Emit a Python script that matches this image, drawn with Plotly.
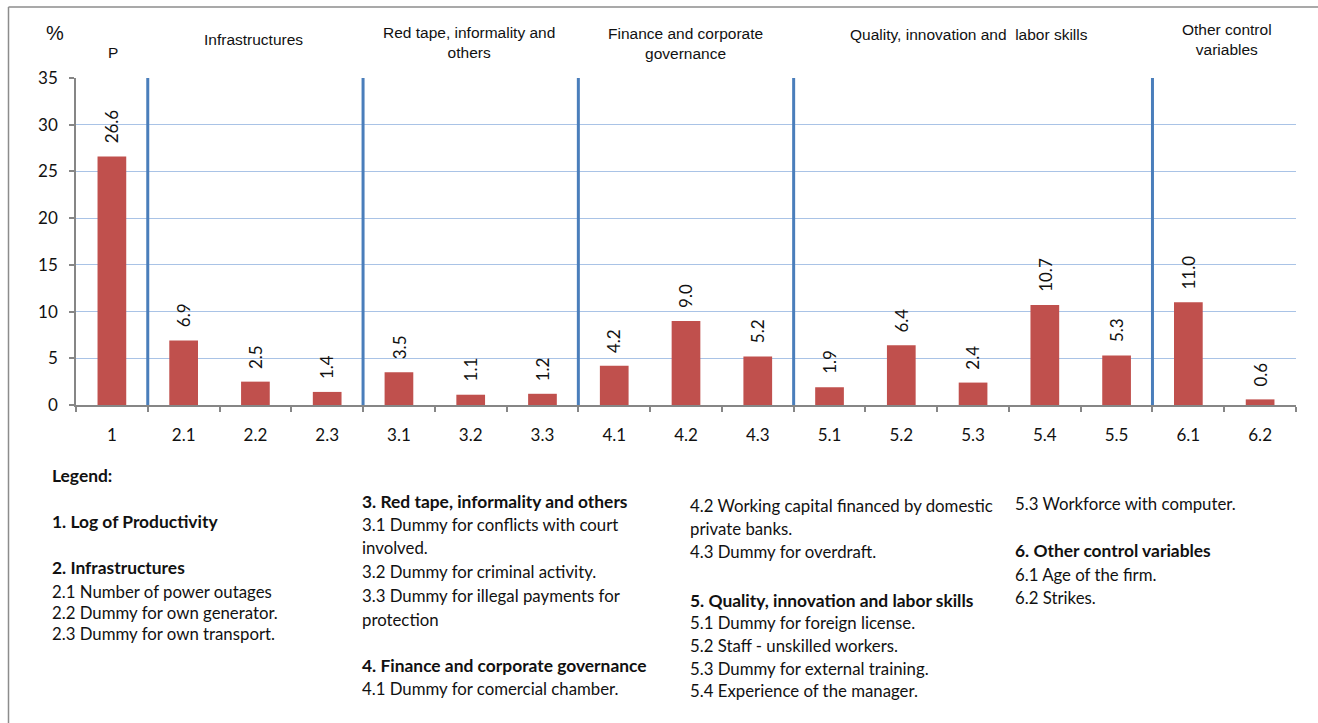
import plotly.graph_objects as go

# ---- data -------------------------------------------------------------
categories = ["1", "2.1", "2.2", "2.3", "3.1", "3.2", "3.3", "4.1", "4.2",
              "4.3", "5.1", "5.2", "5.3", "5.4", "5.5", "6.1", "6.2"]
values = [26.6, 6.9, 2.5, 1.4, 3.5, 1.1, 1.2, 4.2, 9.0, 5.2,
          1.9, 6.4, 2.4, 10.7, 5.3, 11.0, 0.6]
y_ticks = [0, 5, 10, 15, 20, 25, 30, 35]

group_titles = ["P", "Infrastructures", "Red tape, informality and<br>others",
                "Finance and corporate<br>governance",
                "Quality, innovation and  labor skills",
                "Other control<br>variables"]

legend_col1 = ["<b>Legend:</b>", "<b>1. Log of Productivity</b>",
               "<b>2. Infrastructures</b>", "2.1 Number of power outages",
               "2.2 Dummy for own generator.", "2.3 Dummy for own transport."]
legend_col2 = ["<b>3. Red tape, informality and others</b>",
               "3.1 Dummy for conflicts with court", "involved.",
               "3.2 Dummy for criminal activity.",
               "3.3 Dummy for illegal payments for", "protection",
               "<b>4. Finance and corporate governance</b>",
               "4.1 Dummy for comercial chamber."]
legend_col3 = ["4.2 Working capital financed by domestic", "private banks.",
               "4.3 Dummy for overdraft.",
               "<b>5. Quality, innovation and labor skills</b>",
               "5.1 Dummy for foreign license.", "5.2 Staff - unskilled workers.",
               "5.3 Dummy for external training.", "5.4 Experience of the manager."]
legend_col4 = ["5.3 Workforce with computer.", "<b>6. Other control variables</b>",
               "6.1 Age of the firm.", "6.2 Strikes."]

# ---- layout geometry (pixels) ----------------------------------------
W, H = 1318, 723
PLOT_L, PLOT_R, PLOT_T, PLOT_B = 76, 1296, 78, 405
group_breaks = [0.5, 3.5, 6.5, 9.5, 14.5]
title_pos = [(113, 53), (253, 39), (469, 42), (685, 43), (969, 34), (1227, 39)]
legend_cols = [
    (50, legend_col1, [475, 521, 567, 591, 612, 633]),
    (360, legend_col2, [501, 524, 547, 571, 595, 619, 665, 688]),
    (688, legend_col3, [505, 528, 551, 600, 622, 645, 668, 690]),
    (1013, legend_col4, [503, 550, 574, 597]),
]

BODY_FONT = "Lato, 'Noto Sans', sans-serif"
HEAD_FONT = "'Liberation Sans', Arial, sans-serif"


def px(x):
    return x / W


def py(y):
    return 1 - y / H


fig = go.Figure()
fig.add_trace(go.Bar(
    x=categories, y=values,
    marker=dict(color="#C0504D", line=dict(width=0)),
    width=0.4, hoverinfo="x+y",
))

annotations = []
# value labels above bars (x given as category index)
for i, v in enumerate(values):
    annotations.append(dict(
        x=i, y=v, xref="x", yref="y", text=f"{v:.1f}", showarrow=False,
        textangle=-90, yanchor="bottom", xanchor="center", yshift=11,
        font=dict(family=BODY_FONT, size=17, color="#111111"),
    ))

# group headings
for t, (x, y) in zip(group_titles, title_pos):
    annotations.append(dict(
        x=px(x), y=py(y), xref="paper", yref="paper", text=t, showarrow=False,
        xanchor="center", yanchor="middle", align="center",
        font=dict(family=HEAD_FONT, size=15.5, color="#111111"),
    ))

annotations.append(dict(
    x=px(55), y=py(33), xref="paper", yref="paper", text="%", showarrow=False,
    xanchor="center", yanchor="middle",
    font=dict(family=HEAD_FONT, size=20, color="#111111"),
))

# explanatory legend text
for x, lines, ys in legend_cols:
    for t, y in zip(lines, ys):
        bold = t.startswith("<b>")
        annotations.append(dict(
            x=px(x), y=py(y), xref="paper", yref="paper", text=t,
            showarrow=False, xanchor="left", yanchor="middle", align="left",
            font=dict(family=BODY_FONT, size=17.4 if bold else 16.8,
                      color="#111111"),
        ))

shapes = []
# group separators
for b in group_breaks:
    shapes.append(dict(
        type="line", xref="x", yref="y", x0=b, x1=b, y0=-0.85, y1=35,
        line=dict(color="#4A7EBB", width=3), layer="above",
    ))
# outer frame (left and top edges)
shapes.append(dict(type="line", xref="paper", yref="paper",
                   x0=px(8.5), x1=px(8.5), y0=0, y1=py(7),
                   line=dict(color="#8C8C8C", width=1.5)))
shapes.append(dict(type="line", xref="paper", yref="paper",
                   x0=px(8.5), x1=1, y0=py(7), y1=py(7),
                   line=dict(color="#8C8C8C", width=1.5)))

fig.update_layout(
    width=W, height=H,
    margin=dict(l=0, r=0, t=0, b=0),
    paper_bgcolor="white", plot_bgcolor="white",
    showlegend=False,
    bargap=0.6,
    annotations=annotations,
    shapes=shapes,
    xaxis=dict(
        type="category", domain=[px(PLOT_L), px(PLOT_R)],
        range=[-0.5, 16.5],
        showgrid=False, showline=True, linecolor="#868686", linewidth=1.5,
        ticks="outside", tickson="boundaries", ticklen=5, tickcolor="#868686",
        tickwidth=1.5, ticklabelstandoff=14,
        tickfont=dict(family=BODY_FONT, size=17, color="#111111"),
        automargin=False, fixedrange=True,
    ),
    yaxis=dict(
        domain=[py(PLOT_B), py(PLOT_T)], range=[0, 35],
        tickvals=y_ticks, ticktext=[str(v) for v in y_ticks],
        showgrid=True, gridcolor="#A9C3E6", gridwidth=1.3,
        zeroline=False, showline=True, linecolor="#868686", linewidth=1.5,
        ticks="outside", ticklen=5, tickcolor="#868686", tickwidth=1.5,
        ticklabelstandoff=8,
        tickfont=dict(family=BODY_FONT, size=17, color="#111111"),
        automargin=False, fixedrange=True,
    ),
)

fig.write_html("out.html")
